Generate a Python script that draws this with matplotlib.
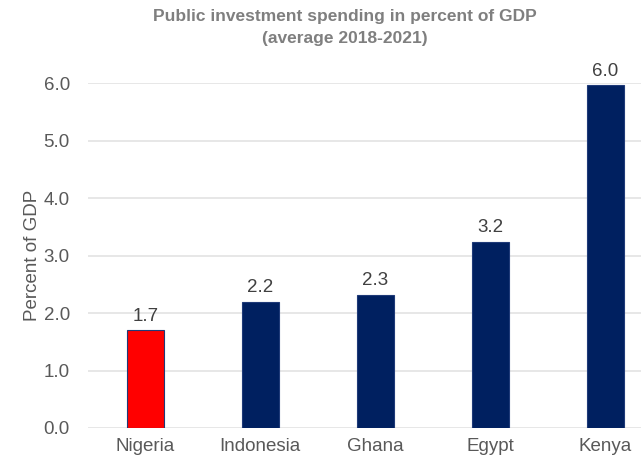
import matplotlib.pyplot as plt

plt.rcParams['font.family'] = ['Liberation Sans', 'DejaVu Sans']

countries = ["Nigeria", "Indonesia", "Ghana", "Egypt", "Kenya"]
spending = [1.70, 2.19, 2.31, 3.24, 5.96]
bar_colors = ["#ff0000", "#002060", "#002060", "#002060", "#002060"]
yticks = [0.0, 1.0, 2.0, 3.0, 4.0, 5.0, 6.0]

fig = plt.figure(figsize=(6.41, 4.63), dpi=100)
ax = fig.add_axes([0.137, 0.0756, 0.863, 0.745])

x = range(len(countries))
bars = ax.bar(x, spending, width=0.32, color=bar_colors,
              edgecolor="#1f3a78", linewidth=0.8, zorder=3)

for b, v in zip(bars, spending):
    ax.text(b.get_x() + b.get_width() / 2, v + 0.1, f"{v:.1f}",
            ha="center", va="bottom", fontsize=13.5, color="#404040")

ax.set_ylim(0, 6.0)
ax.set_xlim(-0.5, 4.31)
ax.set_yticks(yticks)
ax.set_yticklabels([f"{t:.1f}" for t in yticks])
ax.set_xticks(list(x))
ax.set_xticklabels(countries)
ax.tick_params(axis="both", length=0, labelsize=13.5, labelcolor="#595959")
ax.tick_params(axis="y", pad=13)
ax.tick_params(axis="x", pad=7)
ax.grid(axis="y", color="#e3e3e3", linewidth=1.2, zorder=0)
for s in ax.spines.values():
    s.set_visible(False)

ax.set_ylabel("Percent of GDP", fontsize=13.5, color="#595959", labelpad=2)

fig.text(0.538, 0.98, "Public investment spending in percent of GDP\n(average 2018-2021)",
         ha="center", va="top", fontsize=12.5, fontweight="bold", color="#7f7f7f",
         linespacing=1.55)

fig.savefig("out.png", dpi=100)
